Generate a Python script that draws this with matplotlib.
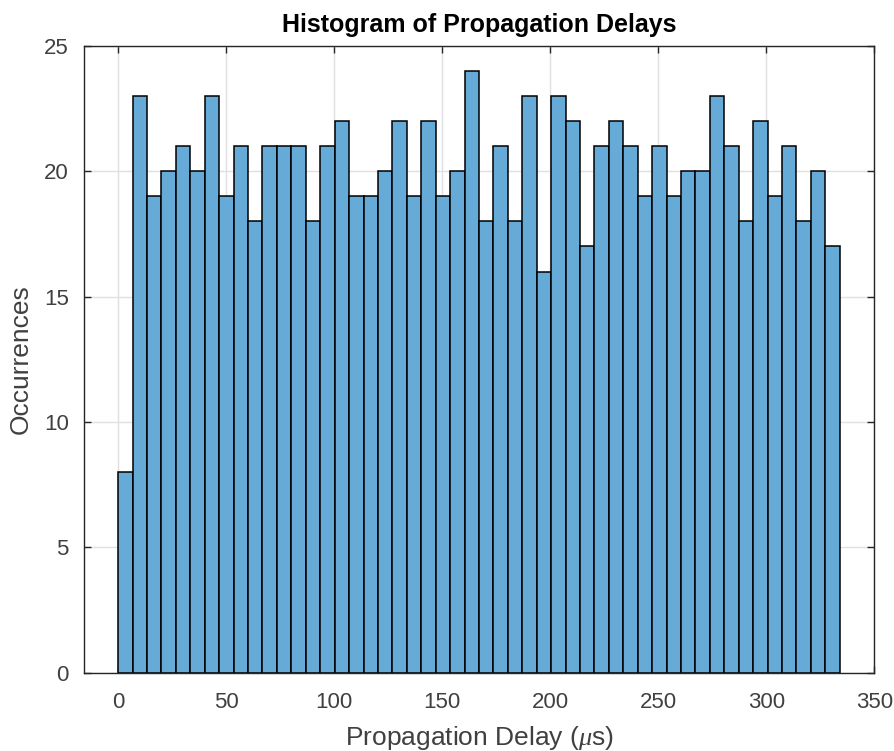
import numpy as np
import matplotlib
matplotlib.use("Agg")
import matplotlib.pyplot as plt

# histogram counts, 50 bins of equal width
counts = [8, 23, 19, 20, 21, 20, 23, 19, 21, 18,
          21, 21, 21, 18, 21, 22, 19, 19, 20, 22,
          19, 22, 19, 20, 24, 18, 21, 18, 23, 16,
          23, 22, 17, 21, 22, 21, 19, 21, 19, 20,
          20, 23, 21, 18, 22, 19, 21, 18, 20, 17]
bin_start = 0.0
bin_width = 6.68
x_ticks = [0, 50, 100, 150, 200, 250, 300, 350]
y_ticks = [0, 5, 10, 15, 20, 25]

edges = bin_start + bin_width * np.arange(len(counts) + 1)

plt.rcParams['font.family'] = ['Liberation Sans', 'DejaVu Sans']
plt.rcParams['mathtext.fontset'] = 'custom'
plt.rcParams['mathtext.it'] = 'Liberation Serif:italic'

fig = plt.figure(figsize=(8.94, 7.51), dpi=100)
ax = fig.add_axes([0.094, 0.104, 0.884, 0.835])

ax.hist(edges[:-1], bins=edges, weights=counts,
        color='#66aad7', edgecolor='black', linewidth=1.1, zorder=2)

ax.set_xlim(-15.8, 350)
ax.set_ylim(0, 25)
ax.set_xticks(x_ticks)
ax.set_yticks(y_ticks)

ax.grid(True, color='#e0e0e0', linewidth=1.0, zorder=0)
ax.set_axisbelow(True)

for s in ax.spines.values():
    s.set_color('#262626')
    s.set_linewidth(1.0)

ax.tick_params(direction='in', length=5, width=1.0, colors='#262626',
               labelsize=16, top=True, right=True)
ax.tick_params(axis='x', pad=14)
ax.tick_params(axis='y', pad=11)
for lbl in ax.get_xticklabels() + ax.get_yticklabels():
    lbl.set_color('#404040')

ax.set_xlabel(r'Propagation Delay ($\mu$s)', fontsize=19, color='#404040', labelpad=8)
ax.set_ylabel('Occurrences', fontsize=19, color='#404040', labelpad=8)
ax.set_title('Histogram of Propagation Delays', fontsize=18, fontweight='bold',
             color='black', pad=10)

fig.savefig('out.png', dpi=100)
